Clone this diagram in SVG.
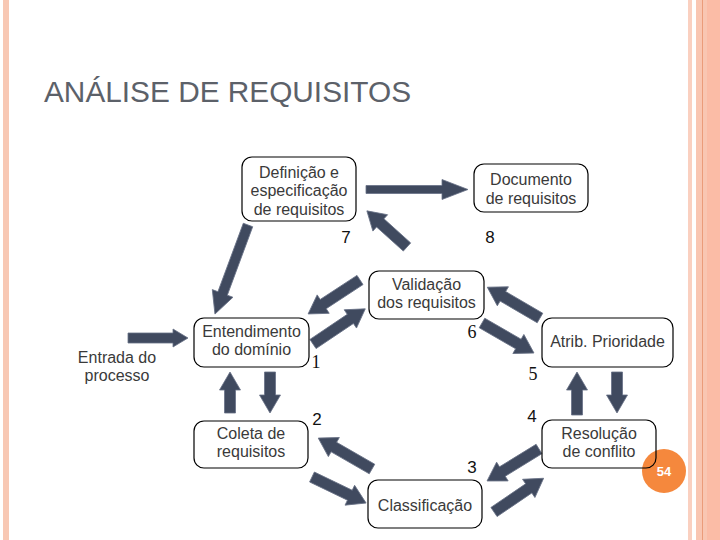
<svg xmlns="http://www.w3.org/2000/svg" width="720" height="540" viewBox="0 0 720 540">
<style>
.node rect{fill:none;stroke:#000;stroke-width:1.2}
.node text,.lbl{font-family:"Liberation Sans",Arial,sans-serif;font-size:16px;fill:#3a3a3a;text-anchor:middle}
.num{font-family:"Liberation Sans",Arial,sans-serif;font-size:17px;fill:#111;text-anchor:middle}
.nums{font-family:"Liberation Serif","Times New Roman",serif;font-size:18px;fill:#111;text-anchor:middle}
.arr path{fill:#404a5f;stroke:#687186;stroke-width:0.8}
</style>
<rect width="720" height="540" fill="#fff"/>
<g id="border">
<rect x="3" y="0" width="6" height="540" fill="#f8c8b4"/>
<rect x="688" y="0" width="4" height="540" fill="#fad0c0"/>
<rect x="696" y="0" width="6" height="540" fill="#f9c6b2"/>
<rect x="702" y="0" width="1.2" height="540" fill="#eb9c7a"/>
<rect x="703" y="0" width="4" height="540" fill="#f9c6b2"/>
<rect x="707" y="0" width="13" height="540" fill="#fbbca6"/>
</g>
<text x="44" y="101.5" font-family="Liberation Sans,Arial,sans-serif" font-size="29" fill="#5c6169" textLength="367" lengthAdjust="spacingAndGlyphs">ANÁLISE DE REQUISITOS</text>
<g id="page-number">
<circle cx="664" cy="471" r="22" fill="#f5883d"/>
<text x="664" y="476" font-family="Liberation Sans,Arial,sans-serif" font-size="13" font-weight="bold" fill="#fff" text-anchor="middle">54</text>
</g>
<g id="connectors" class="arr">
<path transform="translate(366,189.5)" d="M0,-4 H76 V-10 L102,0 L76,10 V4 H0Z"/>
<path transform="translate(248,225) rotate(110.35)" d="M0,-5 H73 V-11 L95,0 L73,11 V5 H0Z"/>
<path transform="translate(407,247) rotate(-138)" d="M0,-5.5 H36 V-11 L54,0 L36,11 V5.5 H0Z"/>
<path transform="translate(360,280) rotate(146.8)" d="M0,-5.5 H44 V-11 L62,0 L44,11 V5.5 H0Z"/>
<path transform="translate(313,344) rotate(-33.9)" d="M0,-5.5 H45 V-11 L63,0 L45,11 V5.5 H0Z"/>
<path transform="translate(540,318) rotate(-149.7)" d="M0,-5.5 H43 V-11 L61,0 L43,11 V5.5 H0Z"/>
<path transform="translate(482,323) rotate(30)" d="M0,-5.5 H42 V-11 L60,0 L42,11 V5.5 H0Z"/>
<path transform="translate(617,372) rotate(90)" d="M0,-5.5 H23 V-10.5 L41,0 L23,10.5 V5.5 H0Z"/>
<path transform="translate(577,415) rotate(-90)" d="M0,-5.5 H25 V-10.5 L43,0 L25,10.5 V5.5 H0Z"/>
<path transform="translate(539,449) rotate(148.4)" d="M0,-5.5 H43 V-11 L61,0 L43,11 V5.5 H0Z"/>
<path transform="translate(494,512) rotate(-34.2)" d="M0,-5.5 H42 V-11 L60,0 L42,11 V5.5 H0Z"/>
<path transform="translate(372,469) rotate(-150.1)" d="M0,-5.5 H44 V-11 L62,0 L44,11 V5.5 H0Z"/>
<path transform="translate(312,477) rotate(25.7)" d="M0,-5.5 H42 V-11 L60,0 L42,11 V5.5 H0Z"/>
<path transform="translate(270,372) rotate(90)" d="M0,-5.5 H23 V-10.5 L41,0 L23,10.5 V5.5 H0Z"/>
<path transform="translate(230,413) rotate(-90)" d="M0,-5.5 H23 V-10.5 L41,0 L23,10.5 V5.5 H0Z"/>
<path transform="translate(128,338)" d="M0,-5 H45 V-9 L60,0 L45,9 V5 H0Z"/>
</g>
<g id="definicao" class="node">
<rect x="242" y="157" width="114" height="64" rx="10"/>
<text x="299" y="177.5">Definição e</text>
<text x="299" y="196">especificação</text>
<text x="299" y="214.5">de requisitos</text>
</g>
<g id="documento" class="node">
<rect x="474" y="164" width="114" height="48" rx="10"/>
<text x="531" y="185">Documento</text>
<text x="531" y="203.5">de requisitos</text>
</g>
<g id="validacao" class="node">
<rect x="369" y="271" width="115" height="48" rx="10"/>
<text x="426.5" y="289.5">Validação</text>
<text x="426.5" y="307.5">dos requisitos</text>
</g>
<g id="entendimento" class="node">
<rect x="194" y="318" width="115" height="49" rx="10"/>
<text x="251.5" y="337">Entendimento</text>
<text x="251.5" y="355">do domínio</text>
</g>
<g id="atrib" class="node">
<rect x="542" y="318" width="131" height="49" rx="10"/>
<text x="607.5" y="347">Atrib. Prioridade</text>
</g>
<g id="resolucao" class="node">
<rect x="542" y="420" width="114" height="48" rx="10"/>
<text x="599" y="438.5">Resolução</text>
<text x="599" y="457">de conflito</text>
</g>
<g id="coleta" class="node">
<rect x="194" y="421" width="114" height="47" rx="10"/>
<text x="251" y="438.5">Coleta de</text>
<text x="251" y="457">requisitos</text>
</g>
<g id="classificacao" class="node">
<rect x="368" y="480" width="114" height="48" rx="10"/>
<text x="425" y="511">Classificação</text>
</g>
<g id="entrada">
<text class="lbl" x="117" y="362.5">Entrada do</text>
<text class="lbl" x="117" y="381">processo</text>
</g>
<g id="numbers">
<text class="num" x="346" y="243">7</text>
<text class="num" x="490" y="243">8</text>
<text class="nums" x="472" y="338">6</text>
<text class="nums" x="316" y="368">1</text>
<text class="nums" x="533" y="380">5</text>
<text class="num" x="532" y="422">4</text>
<text class="num" x="317" y="425">2</text>
<text class="num" x="472" y="473">3</text>
</g>
</svg>
